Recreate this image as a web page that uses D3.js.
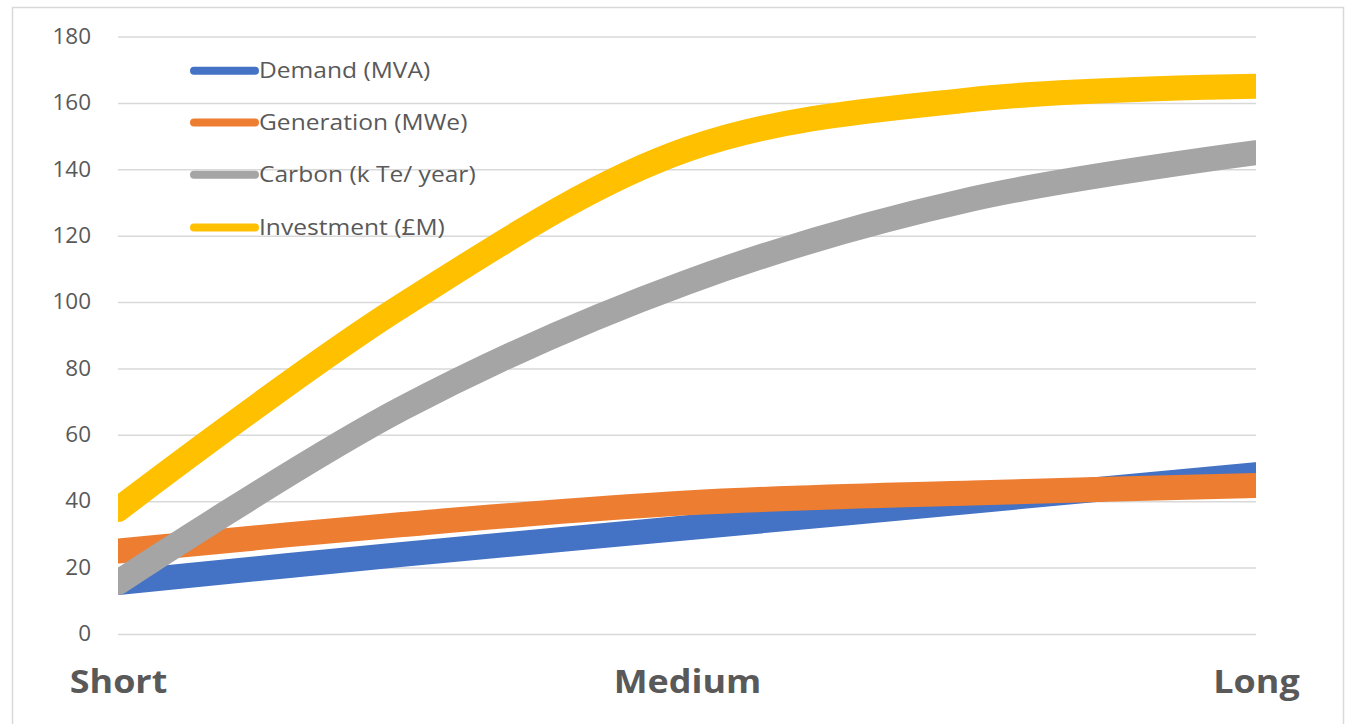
<!DOCTYPE html>
<html>
<head>
<meta charset="utf-8">
<script src="https://cdn.jsdelivr.net/npm/d3@7"></script>
<style>
  html, body { margin: 0; padding: 0; background: #fff; }
  svg { display: block; }
</style>
</head>
<body>
<svg id="chart" width="1348" height="724"></svg>
<script>
// ---- data ----
const categories = ["Short", "", "Medium", "", "Long"];
const seriesNames = ["Demand (MVA)", "Generation (MWe)", "Carbon (k Te/ year)", "Investment (£M)"];
const demand     = [15.5, 24, 32, 40, 48];
const generation = [25, 33, 39.5, 42.5, 44.7];
const carbon     = [15.5, 68, 106, 131, 145];
const investment = [37.5, 99, 146, 161, 165];
const yTicks = [0, 20, 40, 60, 80, 100, 120, 140, 160, 180];
const colors = ["#4472C4", "#ED7D31", "#A5A5A5", "#FFC000"];

const seriesValues = [demand, generation, carbon, investment];

// ---- layout ----
const svg = d3.select("#chart");
const W = 1348, H = 724;
const plot = { left: 118, right: 1256, top: 36.5, bottom: 634 };
const FONT = "'Open Sans', sans-serif";

// border
svg.append("rect")
  .attr("x", 12.5).attr("y", 7.5)
  .attr("width", 1331).attr("height", 730)
  .attr("fill", "none").attr("stroke", "#D9D9D9").attr("stroke-width", 1.5);

const x = d3.scalePoint()
  .domain(d3.range(categories.length))
  .range([plot.left, plot.right]);

const y = d3.scaleLinear()
  .domain([0, 180])
  .range([plot.bottom, plot.top]);

// gridlines + y tick labels
const yAxis = d3.axisLeft(y)
  .tickValues(yTicks)
  .tickSize(-(plot.right - plot.left))
  .tickPadding(0)
  .tickFormat(d3.format("d"));

const gy = svg.append("g")
  .attr("transform", `translate(${plot.left},0)`)
  .call(yAxis);
gy.select(".domain").remove();
gy.selectAll(".tick line").attr("stroke", "#D9D9D9").attr("stroke-width", 1.5);
gy.selectAll(".tick text")
  .attr("x", 0)
  .attr("transform", "translate(-27,0) scale(1.07,1)")
  .attr("fill", "#595959")
  .attr("font-family", FONT)
  .attr("font-size", 21);

// x category labels
const xAxis = d3.axisBottom(x)
  .tickSize(0)
  .tickPadding(0)
  .tickFormat(i => categories[i]);
const gx = svg.append("g")
  .attr("transform", `translate(0,${plot.bottom + 35})`)
  .call(xAxis);
gx.select(".domain").remove();
gx.selectAll(".tick text")
  .attr("fill", "#595959")
  .attr("font-family", FONT)
  .attr("font-weight", "bold")
  .attr("font-size", 31.5)
  .attr("transform", "scale(1.14,1)")
  .attr("dy", "0.75em");

// clip
svg.append("clipPath").attr("id", "plotclip")
  .append("rect")
  .attr("x", plot.left).attr("y", 0)
  .attr("width", plot.right - plot.left).attr("height", H);

const line = d3.line()
  .x((d, i) => x(i))
  .y(d => y(d))
  .curve(d3.curveCatmullRom.alpha(0.5));

const lines = svg.append("g").attr("clip-path", "url(#plotclip)");
seriesValues.forEach((vals, k) => {
  lines.append("path")
    .datum(vals)
    .attr("d", line)
    .attr("fill", "none")
    .attr("stroke", colors[k])
    .attr("stroke-width", 25)
    .attr("stroke-linecap", "round")
    .attr("stroke-linejoin", "round");
});

// legend
const legendY = [70.7, 122.5, 174.7, 227.5];
const leg = svg.append("g");
seriesNames.forEach((name, k) => {
  const g = leg.append("g").attr("transform", `translate(0,${legendY[k]})`);
  g.append("line")
    .attr("x1", 194).attr("x2", 255)
    .attr("y1", 0).attr("y2", 0)
    .attr("stroke", colors[k])
    .attr("stroke-width", 8)
    .attr("stroke-linecap", "round");
  g.append("text")
    .attr("x", 0).attr("y", 0)
    .attr("transform", "translate(259,0) scale(1.17,1)")
    .attr("dy", "0.35em")
    .attr("fill", "#595959")
    .attr("font-family", FONT)
    .attr("font-size", 21)
    .text(name);
});
</script>
</body>
</html>
